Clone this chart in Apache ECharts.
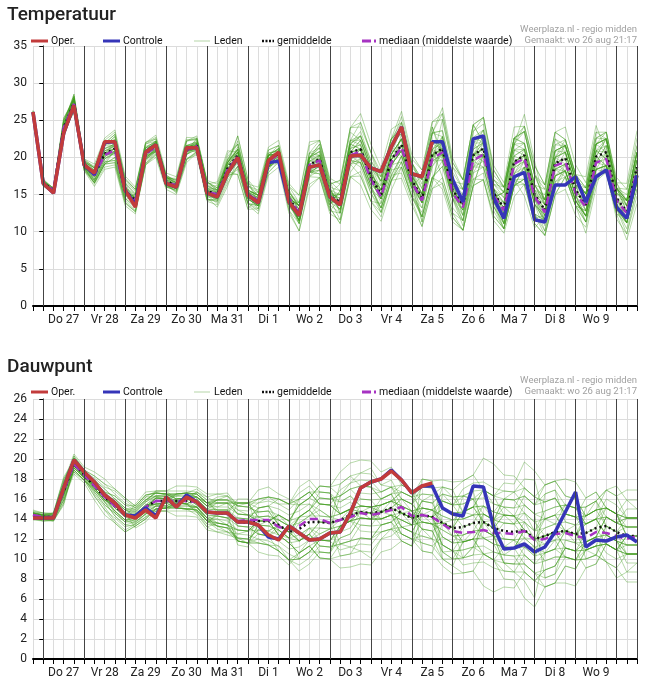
<!DOCTYPE html>
<html lang="nl">
<head>
    <meta charset="UTF-8">
    <title>Pluim temperatuur en dauwpunt</title>
    <style>body{margin:0;background:#fff;}</style>
</head>
<body>
<div style="width: 646px;height: 688px;" id="pluim"></div>
</body>
<script src="https://cdn.jsdelivr.net/npm/echarts@6/dist/echarts.min.js"></script>
<script type="text/javascript">
  // uren vanaf do 27 aug 00:00, stap 6 uur, eerste punt wo 26 aug 18:00
  let tijd = [];
  for (let k = 0; k < 60; k++) tijd.push(-6 + 6 * k);

  let temp = {
    oper: [26.1, 16.5, 15.2, 23.3, 27.0, 19.0, 17.9, 22.1, 22.1, 15.6,
      13.3, 20.7, 21.7, 16.5, 16.0, 21.3, 21.3, 15.2, 14.7, 17.9,
      20.0, 14.9, 13.9, 19.6, 20.7, 14.0, 12.2, 18.7, 19.0, 14.7,
      13.6, 20.2, 20.3, 18.6, 18.1, 21.4, 24.1, 17.8, 17.4, 22.1],
    controle: [26.1, 16.5, 15.2, 23.3, 27.0, 19.0, 17.7, 22.0, 22.1, 15.6,
      13.6, 20.7, 21.7, 16.5, 16.0, 21.3, 21.3, 15.2, 14.7, 17.9,
      20.0, 14.9, 13.9, 19.3, 19.5, 14.0, 12.2, 18.7, 19.0, 14.7,
      13.6, 20.2, 20.3, 18.6, 18.1, 21.4, 24.1, 17.8, 17.4, 22.1,
      22.1, 17.0, 14.0, 22.5, 22.9, 14.5, 11.8, 17.4, 18.0, 11.6,
      11.3, 16.3, 16.3, 17.4, 14.0, 17.4, 18.3, 13.3, 11.8, 17.6],
    gemiddelde: [26, 16.6, 15.5, 24, 27.3, 19, 17.6, 20.5, 21.2, 15.5,
      14.2, 20.5, 21.5, 16.8, 16.2, 21, 21.6, 15.5, 15, 18.5,
      20.3, 15, 14.2, 19.5, 20.5, 14.5, 12.5, 19, 19.8, 14.8,
      14, 20.7, 21.1, 17.4, 15, 19.7, 21.7, 17, 14.5, 20.3,
      21.2, 15.6, 13.6, 20.3, 21.2, 15.2, 13.2, 19.4, 20.3, 15,
      12.9, 19.2, 19.9, 15.6, 13.6, 20.1, 20.7, 14.5, 12.7, 18.7],
    mediaan: [26, 16.6, 15.5, 24, 27.2, 19, 17.6, 20.3, 21, 15.4,
      14.2, 20.5, 21.4, 16.8, 16.2, 21, 21.5, 15.4, 15, 18.3,
      20.1, 15, 14.2, 19.5, 20.4, 14.5, 12.5, 19, 19.6, 14.7,
      13.8, 20.3, 20.8, 17, 14.7, 19.3, 21.4, 16.7, 14.2, 19.8,
      20.7, 15.2, 13.3, 19.6, 20.4, 14.8, 12.9, 19.1, 19.9, 14.7,
      12.6, 18.9, 19.4, 15.2, 13.3, 19.3, 19.8, 14.2, 12.5, 18.3],
    // halve breedte van de pluim per tijdstap
    spreiding: [0.6, 0.9, 0.9, 3.0, 2.6, 1.8, 2.2, 3.2, 2.8, 2.2,
      2.3, 2.3, 2.2, 1.7, 1.8, 2.6, 2.3, 2.6, 2.6, 3.6,
      3.4, 2.6, 3.2, 3.4, 3.2, 3.6, 4.3, 4.7, 4.5, 3.6,
      4.4, 4.9, 5.4, 4.9, 5.4, 6.2, 6.8, 5.1, 5.7, 6.8,
      7.1, 5.5, 6.2, 7.3, 7.5, 5.5, 6.2, 7.1, 7.1, 5.8,
      6.2, 7.5, 7.5, 6.2, 6.8, 7.5, 8.0, 6.2, 6.8, 8.8],
  };

  let dauw = {
    oper: [14.1, 14.1, 14.1, 17.1, 19.9, 18.7, 17.7, 16.4, 15.6, 14.4,
      14.1, 14.9, 14.1, 16.2, 15.2, 16.2, 15.7, 14.7, 14.6, 14.6,
      13.7, 13.7, 13.4, 12.4, 11.9, 13.3, 12.6, 11.9, 12.0, 12.6,
      12.7, 14.6, 17.1, 17.7, 18.0, 18.8, 17.9, 16.6, 17.3, 17.6],
    controle: [14.1, 14.1, 14.1, 17.1, 19.9, 18.7, 17.7, 16.4, 15.6, 14.4,
      14.3, 15.1, 14.3, 16.2, 15.2, 16.4, 15.7, 14.7, 14.6, 14.6,
      13.7, 13.7, 13.4, 12.2, 12.0, 13.3, 12.6, 11.9, 12.0, 12.6,
      12.7, 14.6, 17.1, 17.7, 18.0, 18.9, 17.9, 16.6, 17.3, 17.3,
      15.1, 14.5, 14.3, 17.3, 17.2, 13.2, 11.0, 11.1, 11.5, 10.7,
      11.2, 12.7, 14.7, 16.7, 11.2, 11.9, 11.8, 12.2, 12.4, 11.7],
    gemiddelde: [14.4, 14.2, 14.2, 16.8, 19.5, 18.4, 17.3, 16.2, 15.3, 14.4,
      14.3, 15.2, 15.8, 15.8, 15.8, 15.8, 15.7, 14.7, 14.6, 14.5,
      13.7, 13.6, 13.8, 13.8, 13.4, 12.7, 13.0, 13.7, 13.7, 13.6,
      13.9, 14.4, 14.7, 14.6, 14.7, 15.1, 14.6, 14.1, 14.4, 14.2,
      13.6, 13.1, 13.2, 13.6, 13.7, 13.1, 12.8, 12.7, 12.9, 12.0,
      12.3, 12.7, 12.8, 12.5, 12.6, 13.1, 13.3, 12.7, 12.3, 12.3],
    mediaan: [14.4, 14.2, 14.2, 16.8, 19.5, 18.4, 17.3, 16.2, 15.3, 14.4,
      14.3, 15.2, 15.8, 15.8, 15.8, 15.8, 15.7, 14.7, 14.6, 14.5,
      13.8, 13.9, 13.9, 13.9, 13.2, 13.0, 13.3, 14.0, 14.0, 13.6,
      13.9, 14.2, 14.6, 14.4, 14.6, 14.9, 15.2, 14.3, 14.4, 14.2,
      13.5, 12.8, 12.6, 12.7, 12.9, 12.6, 12.6, 12.5, 12.8, 11.9,
      12.0, 12.5, 12.6, 12.3, 12.1, 12.7, 12.6, 12.3, 12.0, 12.3],
    spreiding: [0.9, 0.8, 0.8, 2.6, 1.8, 1.4, 1.8, 2.3, 2.2, 2.2,
      1.8, 2.2, 2.3, 2.2, 2.2, 2.3, 2.3, 2.7, 2.9, 3.2,
      3.5, 3.6, 4.0, 4.4, 4.7, 5.0, 5.4, 5.4, 5.4, 5.4,
      5.4, 5.8, 5.8, 5.8, 6.0, 6.2, 6.2, 6.4, 6.4, 6.5,
      6.5, 6.9, 6.9, 7.2, 7.2, 7.2, 7.2, 7.2, 7.6, 7.6,
      7.6, 7.6, 7.8, 7.8, 7.8, 8.0, 8.0, 8.2, 8.2, 8.2],
  };

  // ligging van de leden binnen de pluim: 0 = onderkant, 9 = bovenkant
  let leden = [
    '555566778887766554433344556677889988776655443322112233445566',
    '444433221112233445566778899887766554433221122334455667788998',
    '556655443344556677665544332233445566778899887766554433221122',
    '445566778899887766554433221100112233445566778899887766554433',
    '554455667766554433223344556677665544332211223344556677665544',
    '445544332233445566778877665544334455667788998877665544332233',
    '556677889988776655445566778877665544332222334455667788776655',
    '443322110011223344554433221122334455667766554433221122334455',
    '555544443333223344556677889988776655443344556677889988776655',
    '444455556666778899887766554433221122334455665544332211223344',
    '556655667777665544556655443344556677889988776655443344556677',
    '445544556655443322112233445566554433221100112233445566778877',
    '554433223344556677887766554433445566778877665544332233445566',
    '445566776655445566778899887766556677887766554433223344556677',
    '556655445566776655443322110011223344556677889988776655443322',
    '443344556677887766554455667788998877665544332211001122334455',
    '555566667777888877666655554444333322223333444455556666777788',
    '444433332222111122223333444455556666777788889999888877776666',
    '556644556644553366775544667788332255669922114477883355668899',
    '445533446655774466883366557799442255880066337744118855226644',
  ];

  function maakLeden(reeks, stap) {
    let lijst = [];
    for (let i = 0; i < leden.length; i++) {
      let a = leden[i];
      let b = leden[(i + stap) % leden.length];
      [1, -1].forEach(function(teken) {
        let punten = [];
        for (let k = 0; k < 60; k++) {
          let f = (parseInt(a[k]) - parseInt(b[59 - k])) / 9 * teken;
          punten.push([tijd[k], +(reeks.gemiddelde[k] + f * reeks.spreiding[k]).toFixed(1)]);
        }
        lijst.push(punten);
      });
    }
    return lijst;
  }

  function paren(waarden) {
    return waarden.map(function(v, k) { return [tijd[k], v]; });
  }

  let dagen = ['Do 27', 'Vr 28', 'Za 29', 'Zo 30', 'Ma 31', 'Di 1', 'Wo 2', 'Do 3',
    'Vr 4', 'Za 5', 'Zo 6', 'Ma 7', 'Di 8', 'Wo 9', ''];

  function assen(index) {
    return {
      type: 'value', gridIndex: index, min: -6, max: 348, interval: 6,
      axisLine: {show: true, onZero: false, lineStyle: {color: '#000', width: 2}},
      axisTick: {show: true, length: 5, lineStyle: {color: '#000'}},
      axisLabel: {
        color: '#222', fontSize: 12, fontFamily: 'Roboto', margin: 8,
        formatter: function(v) { return ((v % 24) + 24) % 24 === 12 ? dagen[(v - 12) / 24] : ''; },
      },
      splitLine: {show: true, lineStyle: {color: '#dcdcdc', width: 1}},
    };
  }

  function yas(index, max, interval) {
    return {
      type: 'value', gridIndex: index, min: 0, max: max, interval: interval,
      axisLine: {show: true, lineStyle: {color: '#000', width: 1}},
      axisTick: {show: true, length: 4, lineStyle: {color: '#000'}},
      axisLabel: {color: '#222', fontSize: 12, fontFamily: 'Roboto', margin: 6},
      splitLine: {show: true, lineStyle: {color: '#dcdcdc', width: 1}},
    };
  }

  let dagGrenzen = [];
  for (let u = 0; u <= 336; u += 24) dagGrenzen.push({xAxis: u});
  dagGrenzen.push({xAxis: 348});

  function seriesVoor(reeks, index, stap) {
    let s = [];
    s.push({
      type: 'line', xAxisIndex: index, yAxisIndex: index, data: [], silent: true,
      markLine: {
        silent: true, symbol: 'none', label: {show: false}, animation: false,
        lineStyle: {color: '#444', width: 1, type: 'solid'}, data: dagGrenzen,
      },
    });
    maakLeden(reeks, stap).forEach(function(punten) {
      s.push({
        name: 'Leden', type: 'line', xAxisIndex: index, yAxisIndex: index, data: punten,
        symbol: 'none', silent: true, lineStyle: {color: '#3f9a1e', width: 1, opacity: 0.38},
      });
    });
    s.push({
      name: 'gemiddelde', type: 'line', xAxisIndex: index, yAxisIndex: index,
      data: paren(reeks.gemiddelde), symbol: 'none',
      lineStyle: {color: '#111', width: 2.5, type: [2, 3]},
    });
    s.push({
      name: 'mediaan', type: 'line', xAxisIndex: index, yAxisIndex: index,
      data: paren(reeks.mediaan), symbol: 'none',
      lineStyle: {color: '#a633c2', width: 2.5, type: [8, 5]},
    });
    s.push({
      name: 'Controle', type: 'line', xAxisIndex: index, yAxisIndex: index,
      data: paren(reeks.controle), symbol: 'none',
      lineStyle: {color: '#3535b8', width: 3.5},
    });
    s.push({
      name: 'Oper.', type: 'line', xAxisIndex: index, yAxisIndex: index,
      data: paren(reeks.oper), symbol: 'none',
      lineStyle: {color: '#c23b3b', width: 3.5},
    });
    return s;
  }

  function legenda(y) {
    let tekst = {fill: '#111', fontSize: 10.5, fontFamily: 'Roboto', verticalAlign: 'middle'};
    let grijs = {fill: '#a0a0a0', fontSize: 9.5, fontFamily: 'Roboto', align: 'right', verticalAlign: 'middle'};
    return [
      {type: 'line', shape: {x1: 31, y1: y, x2: 48, y2: y}, style: {stroke: '#c23b3b', lineWidth: 3}},
      {type: 'text', x: 51, y: y, style: Object.assign({text: 'Oper.'}, tekst)},
      {type: 'line', shape: {x1: 103, y1: y, x2: 120, y2: y}, style: {stroke: '#3535b8', lineWidth: 3}},
      {type: 'text', x: 123, y: y, style: Object.assign({text: 'Controle'}, tekst)},
      {type: 'line', shape: {x1: 194, y1: y, x2: 210, y2: y}, style: {stroke: '#b5d5a8', lineWidth: 1}},
      {type: 'text', x: 214, y: y, style: Object.assign({text: 'Leden'}, tekst)},
      {type: 'line', shape: {x1: 262, y1: y, x2: 274, y2: y}, style: {stroke: '#111', lineWidth: 2.5, lineDash: [2, 1.5]}},
      {type: 'text', x: 277, y: y, style: Object.assign({text: 'gemiddelde'}, tekst)},
      {type: 'line', shape: {x1: 362, y1: y, x2: 376, y2: y}, style: {stroke: '#a633c2', lineWidth: 3, lineDash: [9, 3]}},
      {type: 'text', x: 379, y: y, style: Object.assign({text: 'mediaan (middelste waarde)'}, tekst)},
      {type: 'text', x: 637, y: y - 11, style: Object.assign({text: 'Weerplaza.nl - regio midden'}, grijs)},
      {type: 'text', x: 637, y: y, style: Object.assign({text: 'Gemaakt: wo 26 aug 21:17'}, grijs)},
    ];
  }

  let option = {
    animation: false,
    backgroundColor: '#fff',
    title: [
      {text: 'Temperatuur', left: 2, top: 1, textStyle: {fontSize: 19, fontWeight: 500, color: '#222', fontFamily: 'Roboto'}},
      {text: 'Dauwpunt', left: 2, top: 353, textStyle: {fontSize: 19, fontWeight: 500, color: '#222', fontFamily: 'Roboto'}},
    ],
    grid: [
      {left: 33, right: 9, top: 46, height: 260},
      {left: 33, right: 9, top: 399, height: 260},
    ],
    xAxis: [assen(0), assen(1)],
    yAxis: [yas(0, 35, 5), yas(1, 26, 2)],
    graphic: legenda(41).concat(legenda(392)),
    series: seriesVoor(temp, 0, 7).concat(seriesVoor(dauw, 1, 3)),
  };

  let instance = echarts.init(document.getElementById('pluim'));
  instance.setOption(option);
</script>
</html>
